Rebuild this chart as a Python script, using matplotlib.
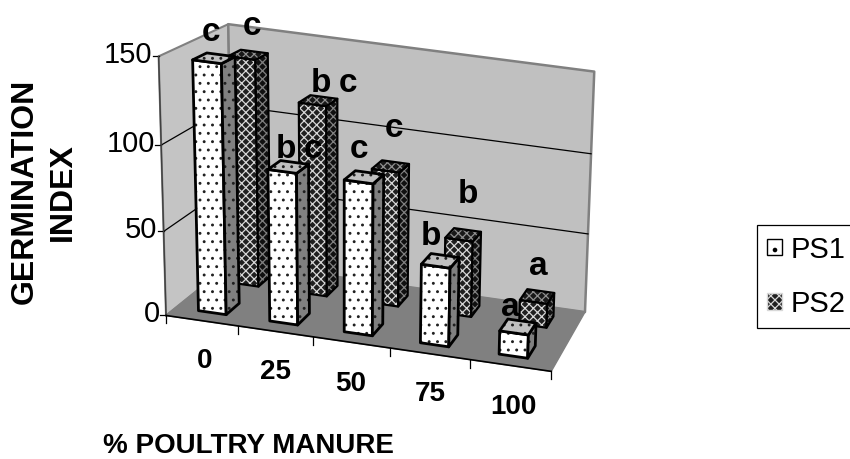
import numpy as np
import matplotlib
matplotlib.use('Agg')
import matplotlib.pyplot as plt
from matplotlib.patches import Polygon, Patch

plt.rcParams['font.family'] = ['Liberation Sans', 'DejaVu Sans']
plt.rcParams['hatch.linewidth'] = 0.9

categories = ['0', '25', '50', '75', '100']
ps1_values = [147, 90, 90, 47, 14]
ps2_values = [139, 117, 83, 47, 15]
y_ticks = [0, 50, 100, 150]

# letters above the bars: text, x, baseline y (pixels)
letters = ['c', 'c', 'b', 'c', 'b', 'c', 'c', 'c', 'b', 'b', 'a', 'a']
letter_x = [211, 252, 321, 348, 286, 313, 359, 394, 431, 468, 510, 538]
letter_y = [41, 35, 92, 92, 158, 158, 158, 137, 245, 203, 316, 275]

# box corners and front ticks of the 3d plot: (category, depth, value) -> pixel
box_in = [(0, 0, 0), (5, 0, 0), (5, 1, 0), (0, 1, 0), (0, 0, 150), (0, 1, 150), (5, 1, 150),
          (1, 0, 0), (2, 0, 0), (3, 0, 0), (4, 0, 0)]
box_px = [(169, 317), (551, 371), (586, 312), (230, 261), (157, 55), (230, 25), (594, 72),
          (238, 327), (313, 338), (390, 349), (468, 360)]
box_wt = [4, 4, 4, 4, 4, 4, 4, 1, 1, 1, 1]
# the front ticks are not evenly spaced in the picture
cat_pos = [0, 0.95, 1.935, 2.935, 3.96, 5]


def fit_camera(points, pixels, weights):
    rows = []
    for (a, b, c), (x, y), k in zip(points, pixels, weights):
        rows.append([k * n for n in [a, b, c, 1, 0, 0, 0, 0, -x * a, -x * b, -x * c, -x]])
        rows.append([k * n for n in [0, 0, 0, 0, a, b, c, 1, -y * a, -y * b, -y * c, -y]])
    return np.linalg.svd(np.array(rows, dtype=float))[2][-1].reshape(3, 4)


camera = fit_camera(box_in, box_px, box_wt)


def proj(u, v, w):
    p = camera @ np.array([u, v, w, 1.0])
    return p[0] / p[2], p[1] / p[2]


fig = plt.figure(figsize=(8.5, 4.59), dpi=100)
ax = fig.add_axes([0, 0, 1, 1])
ax.set_xlim(0, 850)
ax.set_ylim(459, 0)
ax.axis('off')


def face(pts, color, hatch=None, hatch_color='black', edge='black', lw=2.0, z=1):
    if hatch:
        ax.add_patch(Polygon(pts, facecolor=color, edgecolor=hatch_color, hatch=hatch, lw=0, zorder=z))
    else:
        ax.add_patch(Polygon(pts, facecolor=color, edgecolor='none', zorder=z))
    ax.add_patch(Polygon(pts, fill=False, edgecolor=edge, lw=lw, joinstyle='round', zorder=z))


# walls and floor
face([proj(0, 0, 0), proj(0, 1, 0), proj(0, 1, 150), proj(0, 0, 150)], '#c4c4c4', edge='#808080', lw=1.5)
face([proj(0, 1, 0), proj(5, 1, 0), proj(5, 1, 150), proj(0, 1, 150)], '#c0c0c0', edge='#808080', lw=1.8)
face([proj(0, 0, 0), proj(5, 0, 0), proj(5, 1, 0), proj(0, 1, 0)], '#808080', edge='#808080', lw=1)

for t in y_ticks:
    x0, y0 = proj(0, 0, t)
    x1, y1 = proj(0, 1, t)
    x2, y2 = proj(5, 1, t)
    if t in (50, 100):
        ax.plot([x0, x1, x2], [y0, y1, y2], color='black', lw=0.9, zorder=2)
    ax.plot([x0 - 6, x0], [y0, y0], color='black', lw=0.9, zorder=2)
    ax.text(x0 - 6, y0 - 1, str(t), ha='right', va='center', fontsize=21)

ax.plot(*zip(proj(0, 0, 0), proj(0, 0, 150)), color='#404040', lw=1, zorder=2)
ax.plot(*zip(proj(0, 0, 0), proj(5, 0, 0)), color='black', lw=1.2, zorder=2)

for u in cat_pos:
    x, y = proj(u, 0, 0)
    ax.plot([x, x], [y, y + 8], color='black', lw=0.9, zorder=2)

bar_left = 0.30
bar_width = 0.37


def draw_bar(i, value, v0, v1, colors, hatch, hatch_colors, lw, z):
    u0 = cat_pos[i] + bar_left
    u1 = u0 + bar_width
    face([proj(u0, v0, 0), proj(u1, v0, 0), proj(u1, v0, value), proj(u0, v0, value)],
         colors[0], hatch, hatch_colors[0], lw=lw, z=z)
    face([proj(u1, v0, 0), proj(u1, v1, 0), proj(u1, v1, value), proj(u1, v0, value)],
         colors[1], hatch, hatch_colors[1], lw=lw, z=z)
    face([proj(u0, v0, value), proj(u1, v0, value), proj(u1, v1, value), proj(u0, v1, value)],
         colors[2], hatch, hatch_colors[2], lw=lw, z=z)


for i, val in enumerate(ps2_values):
    draw_bar(i, val, 0.65, 0.85, ('#202020', '#101010', '#181818'), 'xxxx',
             ('#d8d8d8', '#808080', '#909090'), 1.6, 3 + i * 0.01)
for i, val in enumerate(ps1_values):
    draw_bar(i, val, 0.14, 0.34, ('white', '#808080', '#c0c0c0'), '..',
             ('#202020', '#202020', '#202020'), 2.0, 4 + i * 0.01)

for lab, x, y in zip(letters, letter_x, letter_y):
    ax.text(x, y, lab, ha='center', va='baseline', fontsize=24, fontweight='bold', zorder=6)

cat_x = [205, 276, 351, 430, 513]
cat_y = [361, 372, 384, 394, 407]
for lab, x, y in zip(categories, cat_x, cat_y):
    ax.text(x, y, lab, ha='center', va='center', fontsize=20, fontweight='bold')

ax.text(25, 191.5, 'GERMINATION', rotation=90, ha='center', va='center', fontsize=23, fontweight='bold')
ax.text(63, 192.5, 'INDEX', rotation=90, ha='center', va='center', fontsize=23, fontweight='bold')
ax.text(103, 453, '% POULTRY MANURE', ha='left', va='baseline', fontsize=20, fontweight='bold')

handles = [Patch(facecolor='white', edgecolor='black', hatch='.', label='PS1'),
           Patch(facecolor='#202020', edgecolor='#d8d8d8', hatch='xxxx', label='PS2')]
leg = ax.legend(handles=handles, loc='upper left', bbox_to_anchor=(757, 225), bbox_transform=ax.transData,
                borderaxespad=0, fontsize=21, frameon=True, fancybox=False,
                edgecolor='black', framealpha=1, handlelength=0.5, handleheight=0.5,
                handletextpad=0.3, borderpad=0.36, labelspacing=0.9)
leg.get_frame().set_linewidth(0.9)

fig.savefig('out.png', dpi=100)
